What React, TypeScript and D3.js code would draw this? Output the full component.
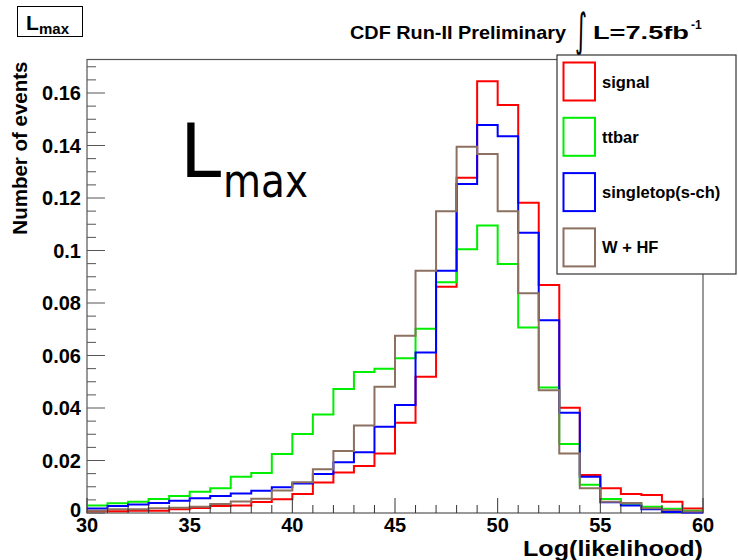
import React from "react";
import * as d3 from "d3";

const binEdges = d3.range(30, 61, 1);
const signal = [0.0007,0.0007,0.0009,0.0009,0.0014,0.0019,0.0027,0.0029,0.0042,0.0052,0.0072,0.0116,0.0154,0.0179,0.0227,0.0344,0.0519,0.0862,0.1277,0.1645,0.1554,0.1182,0.0869,0.0401,0.0145,0.0094,0.0072,0.0069,0.0043,0.0017];
const ttbar = [0.0029,0.0037,0.0043,0.0053,0.0065,0.0081,0.0094,0.0138,0.0152,0.0225,0.0301,0.0375,0.0472,0.0537,0.055,0.059,0.0702,0.0879,0.1005,0.1095,0.0949,0.0707,0.0478,0.0263,0.0108,0.0053,0.0035,0.0024,0.0016,0.0009];
const singletop = [0.0017,0.0027,0.0032,0.0038,0.0047,0.0056,0.0065,0.0074,0.0085,0.0098,0.0112,0.0149,0.0193,0.0231,0.0329,0.0411,0.0611,0.0923,0.1253,0.1478,0.1435,0.1068,0.0734,0.0382,0.0138,0.0041,0.0029,0.0014,0.0004,0.0002];
const whf = [0.0009,0.0014,0.0014,0.0018,0.002,0.0024,0.0034,0.0044,0.0054,0.0086,0.0117,0.0167,0.0236,0.0333,0.0481,0.0675,0.0923,0.115,0.1395,0.1368,0.115,0.0837,0.0468,0.0227,0.0094,0.0043,0.0038,0.0018,0.0011,0.0006];

const seriesNames = ["signal", "ttbar", "singletop(s-ch)", "W + HF"];
const seriesColors = ["#ff0000", "#00ee00", "#0000ff", "#8c7060"];
const seriesValues = [signal, ttbar, singletop, whf];

const xTickLabels = [30, 35, 40, 45, 50, 55, 60];
const yTickLabels = [0, 0.02, 0.04, 0.06, 0.08, 0.1, 0.12, 0.14, 0.16];

const W = 738, H = 560;
const L = 87, R = 703, T = 59.5, B = 513;
const FONT = "'Liberation Sans', Arial, Helvetica, sans-serif";

export default function App() {
  const x = d3.scaleLinear().domain([30, 60]).range([L, R]);
  const y = d3.scaleLinear().domain([0, 0.16]).range([B, B - 8 * 52.5]);
  const yTop = y.invert(T);

  const line = d3
    .line<[number, number]>()
    .x((d) => x(d[0]))
    .y((d) => y(d[1]))
    .curve(d3.curveStepAfter);

  const paths = seriesValues.map((vals) => {
    const pts: [number, number][] = vals.map((v, i) => [binEdges[i], v]);
    pts.push([binEdges[vals.length], vals[vals.length - 1]]);
    return line(pts) || "";
  });

  const xMinor = d3.range(30, 61, 1);
  const yMinor = d3.range(0, yTop, 0.005);

  const legX = 557, legY = 55, legW = 179, legH = 219;
  const legStep = 55.3;

  return (
    <div style={{ position: "absolute", left: 0, top: 0 }}>
      <svg width={W} height={H} style={{ display: "block", background: "#fff" }}>
        <rect x={0} y={0} width={W} height={H} fill="#fff" />
        {/* frame */}
        <rect x={L} y={T} width={R - L} height={B - T} fill="none" stroke="#555" strokeWidth={1.2} />

        {/* histograms */}
        {paths.map((d, i) => (
          <path key={i} d={d} fill="none" stroke={seriesColors[i]} strokeWidth={2} />
        ))}

        {/* x ticks */}
        {xMinor.map((v) => {
          const major = v % 5 === 0;
          return (
            <line key={"xt" + v} x1={x(v)} x2={x(v)} y1={B} y2={B - (major ? 15 : 8)} stroke="#333" strokeWidth={1} />
          );
        })}
        {xTickLabels.map((v) => (
          <text key={"xl" + v} x={x(v)} y={532} textAnchor="middle" fontFamily={FONT} fontWeight="bold" fontSize={20}>
            {v}
          </text>
        ))}

        {/* y ticks */}
        {yMinor.map((v, i) => {
          const major = i % 4 === 0;
          return (
            <line key={"yt" + i} x1={L} x2={L + (major ? 18 : 9)} y1={y(v)} y2={y(v)} stroke="#555" strokeWidth={1} />
          );
        })}
        {yTickLabels.map((v) => (
          <text key={"yl" + v} x={81} y={v === 0 ? y(v) + 4 : y(v) + 7} textAnchor="end" fontFamily={FONT} fontWeight="bold" fontSize={20}>
            {v === 0 ? "0" : String(v)}
          </text>
        ))}

        {/* axis titles */}
        <text
          transform={`translate(27,${T + 2}) rotate(-90)`}
          textAnchor="end"
          fontFamily={FONT}
          fontWeight="bold"
          fontSize={20.5}
        >
          Number of events
        </text>
        <text x={R} y={555.5} textAnchor="end" fontFamily={FONT} fontWeight="bold" fontSize={22.5} textLength={180} lengthAdjust="spacingAndGlyphs">
          Log(likelihood)
        </text>

        {/* top-left label box */}
        <rect x={17.5} y={6.5} width={65} height={30} fill="#fff" stroke="#000" strokeWidth={1} />
        <text x={26} y={30} fontFamily={FONT} fontWeight="bold" fontSize={21}>L</text>
        <text x={39} y={34} fontFamily={FONT} fontWeight="bold" fontSize={15}>max</text>

        {/* title */}
        <text x={350} y={39} fontFamily={FONT} fontWeight="bold" fontSize={19} textLength={216} lengthAdjust="spacingAndGlyphs">
          CDF Run-II Preliminary
        </text>
        <text x={575} y={46} fontFamily="'DejaVu Sans', sans-serif" fontSize={46} textLength={12} lengthAdjust="spacingAndGlyphs">∫</text>
        <text x={593} y={39} fontFamily={FONT} fontWeight="bold" fontSize={19} textLength={96} lengthAdjust="spacingAndGlyphs">
          L=7.5fb
        </text>
        <text x={691} y={29} fontFamily={FONT} fontWeight="bold" fontSize={12}>
          -1
        </text>

        {/* big Lmax */}
        <text x={180} y={177} fontFamily="'Comic Sans MS', 'DejaVu Sans', sans-serif" fontSize={74} fill="#000">
          L
        </text>
        <text x={223} y={197} fontFamily="'Comic Sans MS', 'DejaVu Sans', sans-serif" fontSize={46} textLength={85} lengthAdjust="spacingAndGlyphs" fill="#000">
          max
        </text>

        {/* legend */}
        <rect x={legX} y={legY} width={legW} height={legH} fill="#fff" stroke="#333" strokeWidth={1.2} />
        {seriesNames.map((name, i) => {
          const cy = 81.5 + i * legStep;
          return (
            <g key={name}>
              <rect x={563.5} y={cy - 19} width={31.5} height={38} fill="none" stroke={seriesColors[i]} strokeWidth={2} />
              <text x={602} y={cy + 6} fontFamily={FONT} fontWeight="bold" fontSize={16.5}>
                {name}
              </text>
            </g>
          );
        })}
      </svg>
    </div>
  );
}
